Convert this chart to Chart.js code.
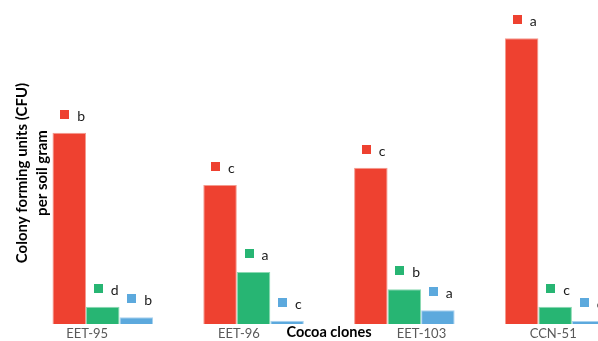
<!DOCTYPE html>
<html>
<head>
<meta charset="utf-8">
<script src="https://cdn.jsdelivr.net/npm/chart.js@4"></script>
<style>
  html, body { margin: 0; padding: 0; background: #fff; overflow: hidden; width: 598px; height: 341px; }
  #wrap { position: relative; width: 620px; height: 341px; }
</style>
</head>
<body>
<div id="wrap"><canvas id="c" width="620" height="341"></canvas></div>
<script>
// Cocoa clones on the category axis
const clones = ['EET-95', 'EET-96', 'EET-103', 'CCN-51'];

// CFU per soil gram for the three microbial groups
const cfuRed   = [19.13, 13.90, 15.63, 28.57];
const cfuGreen = [1.73, 5.20, 3.47, 1.73];
const cfuBlue  = [0.67, 0.33, 1.37, 0.30];

// Significance letters shown above each bar
const lettersRed   = ['b', 'c', 'c', 'a'];
const lettersGreen = ['d', 'a', 'b', 'c'];
const lettersBlue  = ['b', 'c', 'a', 'c'];

const yTitleLines = ['Colony forming units (CFU)', 'per soil gram'];
const xTitle = 'Cocoa clones';

const RED = '#EE4130', GREEN = '#27B573', BLUE = '#5CA9DD';

// Category axis whose labels can sit slightly off the group centre
// (shift per label, as a fraction of one category's width).
// The shift applies only while the axis itself is drawn, so bar sizing is unaffected.
const LABEL_SHIFT = [0.008, 0.014, 0.225, 0.098];
class ShiftedCategoryScale extends Chart.CategoryScale {
  draw(chartArea) {
    this._labelItems = null;
    this._shiftLabels = true;
    super.draw(chartArea);
    this._shiftLabels = false;
  }
  getPixelForTick(index) {
    const base = super.getPixelForTick(index);
    if (!this._shiftLabels) return base;
    const step = this.width / Math.max(this.ticks.length, 1);
    return base + (LABEL_SHIFT[index] || 0) * step;
  }
}
ShiftedCategoryScale.id = 'shiftedCategory';
ShiftedCategoryScale.defaults = Chart.CategoryScale.defaults;
Chart.register(ShiftedCategoryScale);

// Letter tag: small colour square followed by the letter, above each bar
const letterTags = {
  id: 'letterTags',
  afterDatasetsDraw(chart) {
    const ctx = chart.ctx;
    ctx.save();
    ctx.font = '14px Lato';
    ctx.textAlign = 'left';
    ctx.textBaseline = 'alphabetic';
    chart.data.datasets.forEach((ds, di) => {
      if (!ds.letters) return;
      chart.getDatasetMeta(di).data.forEach((bar, i) => {
        const cx = bar.x, top = bar.y;
        ctx.fillStyle = ds.backgroundColor;
        ctx.fillRect(Math.round(cx - 9), Math.round(top - 23), 9, 9);
        ctx.fillStyle = '#1a1a1a';
        ctx.fillText(ds.letters[i], cx + 8, top - 12);
      });
    });
    ctx.restore();
  }
};

// Axis titles laid over the plot
const axisTitles = {
  id: 'axisTitles',
  afterDraw(chart) {
    const ctx = chart.ctx;
    ctx.save();
    ctx.fillStyle = '#000';
    ctx.textAlign = 'center';
    ctx.textBaseline = 'alphabetic';
    ctx.font = 'bold 14.5px Lato';
    ctx.fillText(xTitle, 329, 336.5);
    ctx.font = 'bold 15px Lato';
    const baselines = [27, 47];
    yTitleLines.forEach((line, k) => {
      ctx.save();
      ctx.translate(baselines[k], 173);
      ctx.rotate(-Math.PI / 2);
      ctx.fillText(line, 0, 0);
      ctx.restore();
    });
    ctx.restore();
  }
};

new Chart(document.getElementById('c'), {
  type: 'bar',
  data: {
    labels: clones,
    datasets: [
      { label: '', data: clones.map(() => null), backgroundColor: 'rgba(0,0,0,0)' },
      { label: 'red', data: cfuRed, backgroundColor: RED, borderColor: '#F49A8E', borderWidth: 1, letters: lettersRed },
      { label: 'green', data: cfuGreen, backgroundColor: GREEN, borderColor: '#8AD9B2', borderWidth: 1, letters: lettersGreen },
      { label: 'blue', data: cfuBlue, backgroundColor: BLUE, borderColor: '#A8D2EF', borderWidth: 1, letters: lettersBlue }
    ]
  },
  options: {
    responsive: false,
    animation: false,
    devicePixelRatio: 1,
    layout: { padding: { left: 10.6, right: 6.2, top: 24, bottom: 0 } },
    datasets: { bar: { barPercentage: 1, categoryPercentage: 0.889 } },
    plugins: { legend: { display: false }, tooltip: { enabled: false } },
    scales: {
      x: {
        type: 'shiftedCategory',
        offset: true,
        grid: { display: false, drawTicks: false, offset: true },
        border: { display: false },
        ticks: { color: '#595959', font: { family: 'Lato', size: 13 }, padding: 2, maxRotation: 0 },
        afterFit(scale) { scale.height = 17; }
      },
      y: {
        display: false,
        min: 0,
        max: 30
      }
    }
  },
  plugins: [letterTags, axisTitles]
});
</script>
</body>
</html>
